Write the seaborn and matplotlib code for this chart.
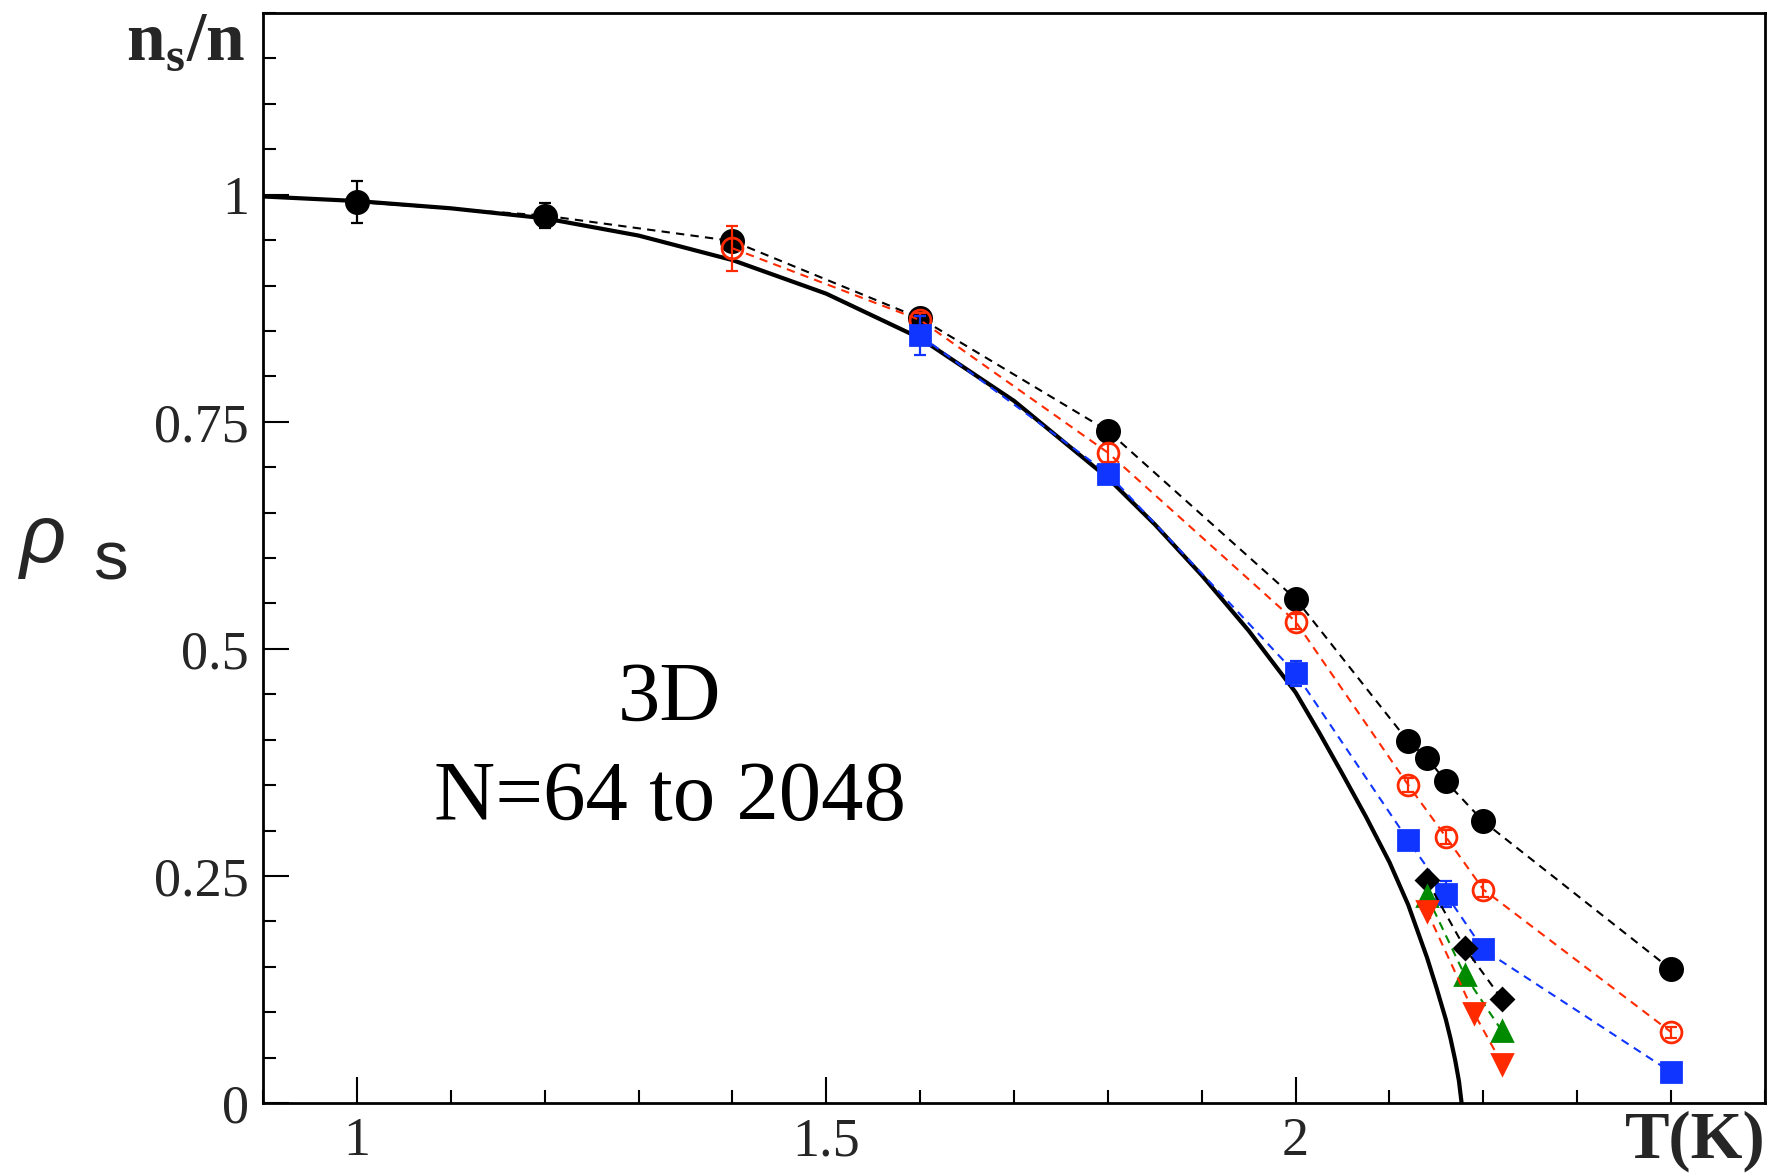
import numpy as np
import pandas as pd
import matplotlib
matplotlib.use("Agg")
import matplotlib.pyplot as plt
import seaborn as sns
from matplotlib.ticker import MultipleLocator, FixedLocator

# ---------------- data ----------------
# experimental superfluid fraction curve (solid black)
curve_T = [0.9, 1.0, 1.1, 1.2, 1.3, 1.4, 1.5, 1.6, 1.7, 1.8, 1.85, 1.9, 1.95,
           2.0, 2.025, 2.05, 2.075, 2.1, 2.12, 2.14, 2.15, 2.16, 2.165,
           2.17, 2.174, 2.1768]
curve_rho = [0.998, 0.993, 0.985, 0.974, 0.955, 0.928, 0.891, 0.842, 0.773,
             0.688, 0.637, 0.581, 0.520, 0.452, 0.408, 0.362, 0.315, 0.265,
             0.218, 0.160, 0.127, 0.092, 0.071, 0.047, 0.024, 0.0]

# black filled circles
blk_T = [1.0, 1.2, 1.4, 1.6, 1.8, 2.0, 2.12, 2.14, 2.16, 2.2, 2.4]
blk_rho = [0.992, 0.977, 0.949, 0.864, 0.740, 0.555, 0.398, 0.380, 0.354, 0.310, 0.147]
blk_err = [0.023, 0.014, 0.0, 0.0, 0.0, 0.0, 0.0, 0.0, 0.0, 0.0, 0.0]

# red open circles
red_T = [1.4, 1.6, 1.8, 2.0, 2.12, 2.16, 2.2, 2.4]
red_rho = [0.941, 0.862, 0.716, 0.530, 0.350, 0.293, 0.235, 0.078]
red_err = [0.025, 0.008, 0.010, 0.008, 0.008, 0.008, 0.008, 0.006]

# blue filled squares
blu_T = [1.6, 1.8, 2.0, 2.12, 2.16, 2.2, 2.4]
blu_rho = [0.845, 0.693, 0.473, 0.289, 0.230, 0.169, 0.034]
blu_err = [0.021, 0.008, 0.014, 0.0, 0.014, 0.0, 0.0]

# black diamonds
dia_T = [2.14, 2.18, 2.22]
dia_rho = [0.245, 0.171, 0.114]

# green up-triangles
grn_T = [2.14, 2.18, 2.22]
grn_rho = [0.228, 0.141, 0.079]

# red down-triangles
rdn_T = [2.14, 2.19, 2.22]
rdn_rho = [0.211, 0.099, 0.043]

x_major = [1.0, 1.5, 2.0]
x_labels = ["1", "1.5", "2"]
y_major = [0.0, 0.25, 0.5, 0.75, 1.0]
y_labels = ["0", "0.25", "0.5", "0.75", "1"]

# ---------------- style ----------------
sns.set_theme(style="ticks")
plt.rcParams["font.family"] = ["Liberation Serif", "DejaVu Serif"]
plt.rcParams["mathtext.fontset"] = "custom"
plt.rcParams["mathtext.rm"] = "Liberation Serif"
plt.rcParams["mathtext.bf"] = "Liberation Serif:bold"
plt.rcParams["axes.linewidth"] = 2.0

W, H = 1774, 1175
fig = plt.figure(figsize=(W / 100, H / 100), dpi=100)
fig.patch.set_facecolor("white")
ax = fig.add_axes([263 / W, 1 - 1103 / H, (1765 - 263) / W, (1103 - 13) / H])
ax.set_facecolor("white")

RED = "#ff2a00"
BLUE = "#1035ff"
GREEN = "#008a00"
DASH = (0, (4, 3))

# solid curve
sns.lineplot(x=curve_T, y=curve_rho, ax=ax, color="black", lw=3.0,
             sort=False, errorbar=None, zorder=2)

series = [
    dict(T=blk_T, r=blk_rho, e=blk_err, c="black", m="o", ms=16, mfc="black"),
    dict(T=red_T, r=red_rho, e=red_err, c=RED, m="o", ms=15, mfc="none"),
    dict(T=blu_T, r=blu_rho, e=blu_err, c=BLUE, m="s", ms=14, mfc=BLUE),
    dict(T=dia_T, r=dia_rho, e=None, c="black", m="D", ms=11, mfc="black"),
    dict(T=grn_T, r=grn_rho, e=None, c=GREEN, m="^", ms=15, mfc=GREEN),
    dict(T=rdn_T, r=rdn_rho, e=None, c=RED, m="v", ms=15, mfc=RED),
]

for i, s in enumerate(series):
    df = pd.DataFrame({"T": s["T"], "rho": s["r"]})
    sns.lineplot(data=df, x="T", y="rho", ax=ax, color=s["c"], lw=1.5,
                 linestyle=DASH, marker=s["m"], markersize=s["ms"],
                 markerfacecolor=s["mfc"], markeredgecolor=s["c"],
                 markeredgewidth=2.0, errorbar=None, zorder=3 + i)
    if s["e"] is not None:
        T = np.array(s["T"]); r = np.array(s["r"]); e = np.array(s["e"])
        k = e > 0
        ax.errorbar(T[k], r[k], yerr=e[k], fmt="none", ecolor=s["c"],
                    elinewidth=1.6, capsize=4.5, capthick=1.6, zorder=3 + i)

ax.set_xlim(0.9, 2.5)
ax.set_ylim(0.0, 1.2)

ax.xaxis.set_major_locator(FixedLocator(x_major))
ax.set_xticklabels(x_labels)
ax.xaxis.set_minor_locator(MultipleLocator(0.1))
ax.yaxis.set_major_locator(FixedLocator(y_major))
ax.set_yticklabels(y_labels)
ax.yaxis.set_minor_locator(MultipleLocator(0.05))

ax.tick_params(which="both", direction="in", top=False, right=False,
               color="black", width=1.5)
ax.tick_params(which="major", length=19, labelsize=39)
ax.tick_params(axis="x", which="major", pad=10)
ax.tick_params(axis="y", which="major", pad=10)
ax.tick_params(which="minor", length=9.5)
for sp in ax.spines.values():
    sp.set_color("black")
    sp.set_linewidth(2.0)
ax.set_xlabel("")
ax.set_ylabel("")

# annotations
ax.text(1.333, 0.421, "3D", ha="center", va="baseline", fontsize=61,
        color="black")
ax.text(1.333, 0.312, "N=64 to 2048", ha="center", va="baseline",
        fontsize=61, color="black")

fig.text(245 / W, 1 - 60 / H, r"$\mathbf{n}_{\mathbf{s}}\mathbf{/n}$",
         ha="right", va="baseline", fontsize=50)
fig.text(1766 / W, 1 - 1158 / H, "T(K)", ha="right", va="baseline",
         fontsize=48, fontweight="bold")
fig.text(20 / W, 1 - 562 / H, "\u03c1", ha="left", va="baseline",
         fontsize=58, family=["Liberation Sans", "DejaVu Sans"],
         style="italic")
fig.text(93 / W, 1 - 580 / H, "s", ha="left", va="baseline",
         fontsize=50, family=["Liberation Sans", "DejaVu Sans"])

fig.savefig("out.png", dpi=100, facecolor="white")
